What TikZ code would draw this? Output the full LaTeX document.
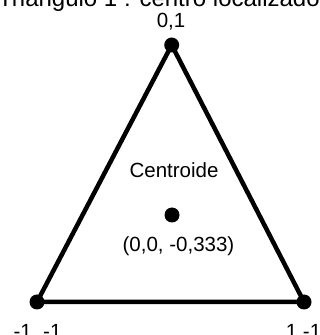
\documentclass[tikz,border=0pt]{standalone}
\usepackage{fontspec}
\setmainfont{Liberation Sans}
\usepackage{tikz}
\usetikzlibrary{positioning}
\tikzset{
    every picture/.style={line cap=round,line join=round},
    vdot/.style={circle,fill=black,minimum size=15pt,inner sep=0pt,outer sep=0pt},
    sideline/.style={draw=black,line width=4.5pt},
    ptlabel/.style={inner sep=0pt,font=\fontsize{20.5}{24}\selectfont}
}

\begin{document}
\begin{tikzpicture}[x=1pt,y=1pt]
  \useasboundingbox (0,0) rectangle (320,335);
  % title, cut by the top edge
  \node[ptlabel,anchor=base west,font=\fontsize{24}{28}\selectfont] (title) at (-2,328) {Triangulo 1 : centro localizado};
  % vertices and centroid
  \node[vdot] (v0) at (171.7,290) {};
  \node[vdot] (v1) at (37,33) {};
  \node[vdot] (v2) at (304,33) {};
  \node[vdot] (cg) at (172,120) {};
  \draw[sideline] (v0.center) -- (v1.center) -- (v2.center) -- cycle;
  \node[ptlabel] (l0) at (171,313) {0,1};
  \node[ptlabel,anchor=base] (l1) at (37.5,-3) {-1, -1};
  \node[ptlabel,anchor=base] (l2) at (303.5,-3) {1,-1};
  \node[ptlabel] (lc) at (174,164.5) {Centroide};
  \node[ptlabel] (lcv) at (178.5,89) {(0,0, -0,333)};
\end{tikzpicture}
\end{document}
